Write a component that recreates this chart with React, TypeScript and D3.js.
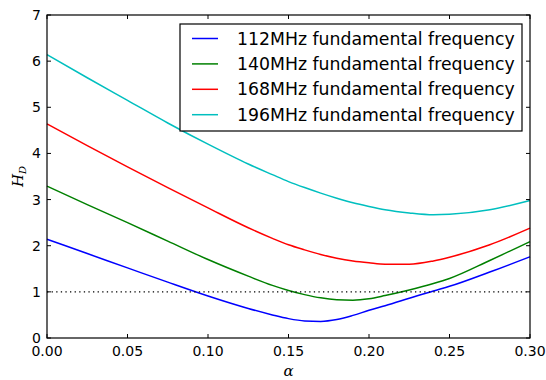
import React from "react";
import * as d3 from "d3";

// sampled alpha values, shared by all four curves
const alpha = [0, 0.025, 0.05, 0.075, 0.1, 0.125, 0.14, 0.15, 0.16, 0.17, 0.18, 0.19, 0.2, 0.21, 0.225, 0.24, 0.25, 0.275, 0.3];

const hd112 = [2.14, 1.83, 1.52, 1.21, 0.91, 0.64, 0.5, 0.42, 0.37, 0.36, 0.4, 0.49, 0.6, 0.7, 0.86, 1.02, 1.12, 1.43, 1.76];
const hd140 = [3.29, 2.89, 2.5, 2.1, 1.7, 1.34, 1.14, 1.03, 0.94, 0.87, 0.83, 0.82, 0.85, 0.92, 1.04, 1.18, 1.29, 1.68, 2.09];
const hd168 = [4.64, 4.17, 3.71, 3.26, 2.82, 2.39, 2.16, 2.02, 1.91, 1.81, 1.73, 1.67, 1.63, 1.6, 1.6, 1.67, 1.75, 2.02, 2.38];
const hd196 = [6.14, 5.64, 5.15, 4.66, 4.2, 3.77, 3.54, 3.39, 3.26, 3.14, 3.03, 2.93, 2.85, 2.78, 2.71, 2.67, 2.68, 2.78, 2.98];

const seriesNames = [
  "112MHz fundamental frequency",
  "140MHz fundamental frequency",
  "168MHz fundamental frequency",
  "196MHz fundamental frequency",
];
const seriesValues = [hd112, hd140, hd168, hd196];
const seriesColors = ["#0000ff", "#008000", "#ff0000", "#00bfbf"];

const xTicks = [0, 0.05, 0.1, 0.15, 0.2, 0.25, 0.3];
const yTicks = [0, 1, 2, 3, 4, 5, 6, 7];
const threshold = 1;

const W = 546;
const H = 380;
const margin = { top: 15, right: 16, bottom: 42, left: 47 };

export default function App() {
  const x = d3.scaleLinear().domain([0, 0.3]).range([margin.left, W - margin.right]);
  const y = d3.scaleLinear().domain([0, 7]).range([H - margin.bottom, margin.top]);

  const line = d3
    .line<number>()
    .x((_, i) => x(alpha[i]))
    .y((d) => y(d))
    .curve(d3.curveMonotoneX);

  const x0 = x.range()[0];
  const x1 = x.range()[1];
  const y0 = y.range()[0];
  const y1 = y.range()[1];
  const tick = 4;
  const font = "'DejaVu Sans', sans-serif";

  // legend box
  const lg = { x: 180, y: 24, w: 342, h: 107 };
  const rowY = (i: number) => 38.5 + i * 25.4;

  return (
    <svg
      width={W}
      height={H}
      style={{ position: "absolute", left: 0, top: 0, display: "block", background: "#fff" }}
    >
      <rect x={0} y={0} width={W} height={H} fill="#fff" />

      {/* curves */}
      <g fill="none" strokeWidth={1.5}>
        {seriesValues.map((vals, i) => (
          <path key={i} d={line(vals) ?? ""} stroke={seriesColors[i]} />
        ))}
      </g>

      {/* H_D = 1 reference line */}
      <line
        x1={x0}
        x2={x1}
        y1={y(threshold)}
        y2={y(threshold)}
        stroke="#000"
        strokeWidth={1.3}
        strokeDasharray="1.3,3.3"
      />

      {/* ticks on all four sides, pointing inward */}
      <g stroke="#000" strokeWidth={1}>
        {xTicks.map((t) => (
          <g key={"x" + t}>
            <line x1={x(t)} x2={x(t)} y1={y0} y2={y0 - tick} />
            <line x1={x(t)} x2={x(t)} y1={y1} y2={y1 + tick} />
          </g>
        ))}
        {yTicks.map((t) => (
          <g key={"y" + t}>
            <line x1={x0} x2={x0 + tick} y1={y(t)} y2={y(t)} />
            <line x1={x1} x2={x1 - tick} y1={y(t)} y2={y(t)} />
          </g>
        ))}
      </g>

      {/* frame */}
      <rect x={x0} y={y1} width={x1 - x0} height={y0 - y1} fill="none" stroke="#000" strokeWidth={1.2} />

      {/* tick labels */}
      <g fontFamily={font} fontSize={14} fill="#000">
        {xTicks.map((t) => (
          <text key={"xl" + t} x={x(t)} y={356} textAnchor="middle">
            {d3.format(".2f")(t)}
          </text>
        ))}
        {yTicks.map((t) => (
          <text key={"yl" + t} x={41} y={y(t)} textAnchor="end" dominantBaseline="central">
            {t}
          </text>
        ))}
      </g>

      {/* axis titles */}
      <text
        x={(x0 + x1) / 2}
        y={376}
        textAnchor="middle"
        fontFamily="'DejaVu Serif', serif"
        fontStyle="italic"
        fontSize={15}
      >
        α
      </text>
      <text
        transform={`translate(23, ${(y0 + y1) / 2}) rotate(-90)`}
        textAnchor="middle"
        fontFamily="'DejaVu Serif', serif"
        fontStyle="italic"
        fontSize={15}
      >
        H
        <tspan fontSize={10} dy={3}>
          D
        </tspan>
      </text>

      {/* legend */}
      <rect x={lg.x} y={lg.y} width={lg.w} height={lg.h} fill="#fff" stroke="#000" strokeWidth={1.2} />
      {seriesNames.map((name, i) => (
        <g key={name}>
          <line x1={192} x2={218} y1={rowY(i)} y2={rowY(i)} stroke={seriesColors[i]} strokeWidth={1.5} />
          <text x={237} y={rowY(i)} dominantBaseline="central" fontFamily={font} fontSize={17.3}>
            {name}
          </text>
        </g>
      ))}
    </svg>
  );
}
